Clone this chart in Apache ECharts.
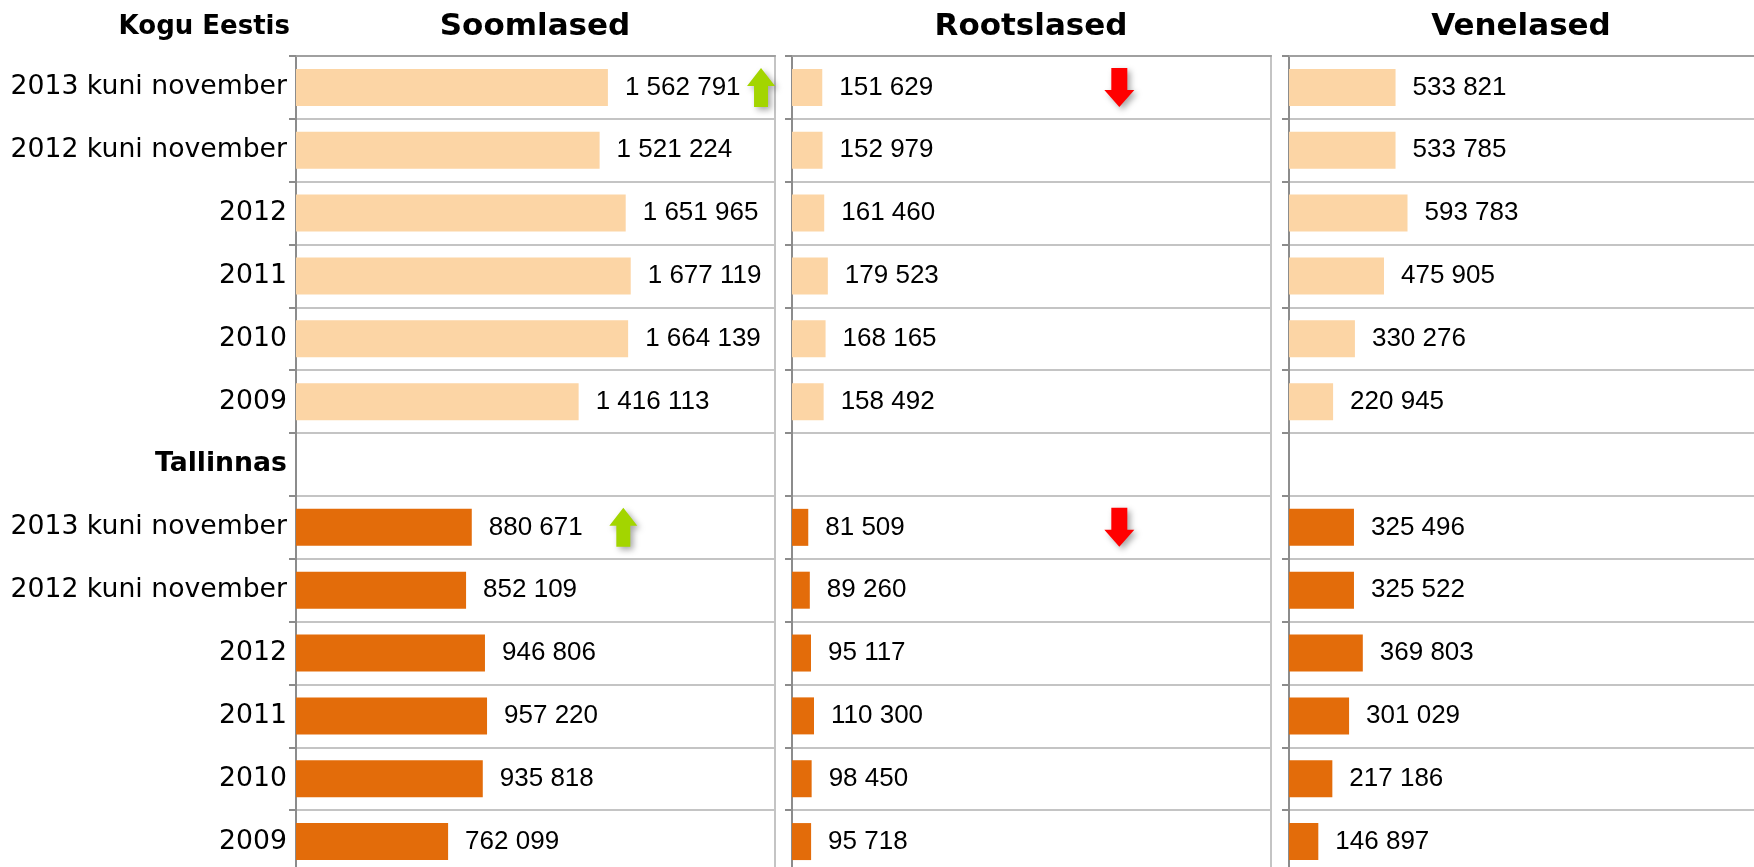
<!DOCTYPE html>
<html>
<head>
<meta charset="utf-8">
<script src="https://cdn.jsdelivr.net/npm/echarts@6/dist/echarts.min.js"></script>
<style>
  html, body { margin: 0; padding: 0; background: #fff; }
  #main { width: 1754px; height: 867px; }
</style>
</head>
<body>
<div id="main"></div>
<script>
// ridade nimed (ülevalt alla)
var categories = ["2013 kuni november", "2012 kuni november", "2012", "2011", "2010", "2009",
                  "Tallinnas",
                  "2013 kuni november", "2012 kuni november", "2012", "2011", "2010", "2009"];
var panels = ["Soomlased", "Rootslased", "Venelased"];

// Kogu Eestis
var soomEesti = [1562791, 1521224, 1651965, 1677119, 1664139, 1416113];
var rootsEesti = [151629, 152979, 161460, 179523, 168165, 158492];
var veneEesti = [533821, 533785, 593783, 475905, 330276, 220945];

// Tallinnas
var soomTallinn = [880671, 852109, 946806, 957220, 935818, 762099];
var rootsTallinn = [81509, 89260, 95117, 110300, 98450, 95718];
var veneTallinn = [325496, 325522, 369803, 301029, 217186, 146897];

var lightColor = "#fcd5a5",
    darkColor = "#e36c0a";

var upArrow = "path://M7,18 L0,18 L14,0 L28,18 L21,18 L21,39 L7,39 Z";
var downArrow = "path://M7,0 L23,0 L23,22 L30,22 L15,39 L0,22 L7,22 Z";

function fmt(v){
    return String(v).replace(/\B(?=(\d{3})+(?!\d))/g, " ");
}

function pushBars(arr, color, out){
    for (var i = 0; i < arr.length; i++) {
        out.push({ value: arr[i], itemStyle: { color: color } });
    }
}

function buildData(eesti, tallinn){
    var out = [];
    pushBars(eesti, lightColor, out);
    out.push("-");
    pushBars(tallinn, darkColor, out);
    return out;
}

var gridLeft = [296, 792, 1289];
var grids = [], xAxes = [], yAxes = [], series = [];

var allData = [
    buildData(soomEesti, soomTallinn),
    buildData(rootsEesti, rootsTallinn),
    buildData(veneEesti, veneTallinn)
];

// nooled (tõus / langus)
var marks = [
    [ {coord: [2330000, 0], symbol: upArrow, symbolSize: [28, 39], itemStyle: {color: "#a3d500"}},
      {coord: [1640000, 7], symbol: upArrow, symbolSize: [28, 39], itemStyle: {color: "#a3d500"}} ],
    [ {coord: [1640000, 0], symbol: downArrow, symbolSize: [30, 39], itemStyle: {color: "#ff0000"}},
      {coord: [1640000, 7], symbol: downArrow, symbolSize: [30, 39], itemStyle: {color: "#ff0000"}} ],
    []
];

var yData = categories.map(function(c, i){
    if (i == 6) return { value: c, textStyle: { fontWeight: "bold" } };
    return c;
});

for (var p = 0; p < 3; p++) {
    grids.push({
        left: gridLeft[p], top: 56, width: 479, height: 817,
        outerBoundsMode: "none", containLabel: false,
        show: true, borderColor: "#c4c4c4", borderWidth: 2
    });
    xAxes.push({
        type: "value", gridIndex: p, min: 0, max: 2400000, position: "top",
        axisLine: { show: true, lineStyle: { color: "#a0a0a0", width: 2 } },
        axisTick: { show: false }, axisLabel: { show: false }, splitLine: { show: false }
    });
    yAxes.push({
        type: "category", gridIndex: p, inverse: true, data: yData,
        axisLine: { show: true, lineStyle: { color: "#8c8c8c", width: 2 } },
        axisTick: { show: true, interval: 0, length: 7, lineStyle: { color: "#8c8c8c", width: 2 } },
        axisLabel: {
            show: p == 0, interval: 0, margin: 9, color: "#000",
            fontFamily: "DejaVu Sans", fontSize: 26.7
        },
        splitLine: { show: true, interval: 0, lineStyle: { color: "#c4c4c4", width: 2 } }
    });
    series.push({
        name: panels[p], type: "bar", xAxisIndex: p, yAxisIndex: p,
        data: allData[p], barWidth: 37,
        label: {
            show: true, position: "right", distance: 17, color: "#000",
            fontFamily: "Liberation Sans", fontSize: 26,
            formatter: function(params){ return fmt(params.value); }
        },
        markPoint: {
            data: marks[p],
            label: { show: false },
            itemStyle: { shadowBlur: 6, shadowColor: "rgba(0,0,0,0.35)", shadowOffsetX: 3, shadowOffsetY: 3 }
        }
    });
}

var myChart = echarts.init(document.getElementById("main"));

option = {
    animation: false,
    grid: grids,
    xAxis: xAxes,
    yAxis: yAxes,
    series: series,
    graphic: [
        { type: "text", x: 290, y: 27, style: { text: "Kogu Eestis", textAlign: "right", textVerticalAlign: "middle", font: 'bold 26px "DejaVu Sans"', fill: "#000" } },
        { type: "text", x: 535, y: 27, style: { text: panels[0], textAlign: "center", textVerticalAlign: "middle", font: 'bold 31px "DejaVu Sans"', fill: "#000" } },
        { type: "text", x: 1031, y: 27, style: { text: panels[1], textAlign: "center", textVerticalAlign: "middle", font: 'bold 31px "DejaVu Sans"', fill: "#000" } },
        { type: "text", x: 1521, y: 27, style: { text: panels[2], textAlign: "center", textVerticalAlign: "middle", font: 'bold 31px "DejaVu Sans"', fill: "#000" } }
    ]
};

myChart.setOption(option);
</script>
</body>
</html>
